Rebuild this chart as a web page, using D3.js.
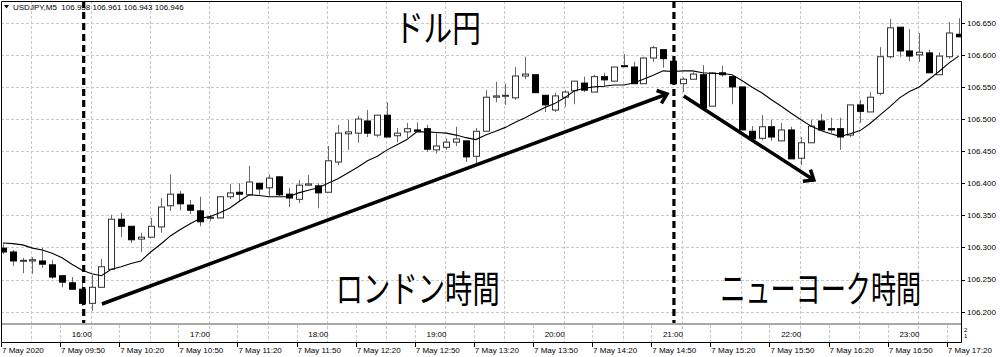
<!DOCTYPE html>
<html><head><meta charset="utf-8">
<script src="https://cdn.jsdelivr.net/npm/d3@7"></script>
<style>body{margin:0;background:#fff;overflow:hidden} svg{display:block}</style>
</head><body>
<svg id="c" width="1000" height="357"></svg>
<script>
// ---------------- data ----------------
const headerText = "USDJPY,M5  106.958 106.961 106.943 106.946";
const priceTicks = [106.200,106.250,106.300,106.350,106.400,106.450,106.500,106.550,106.600,106.650];
const timeLabelBars = [0,6,12,18,24,30,36,42,48,54,60,66,72,78,84,90,96];
const timeLabels = ["7 May 2020","7 May 09:50","7 May 10:20","7 May 10:50","7 May 11:20","7 May 11:50","7 May 12:20","7 May 12:50","7 May 13:20","7 May 13:50","7 May 14:20","7 May 14:50","7 May 15:20","7 May 15:50","7 May 16:20","7 May 16:50","7 May 17:20"];
const hourBars = [8,20,32,44,56,68,80,92];
const hourLabels = ["16:00","17:00","18:00","19:00","20:00","21:00","22:00","23:00"];

const opens = [106.299,106.293,106.279,106.279,106.279,106.273,106.256,106.245,106.235,106.213,
106.238,106.266,106.344,106.333,106.313,106.316,106.332,106.365,106.383,106.366,
106.357,106.346,106.346,106.379,106.386,106.382,106.400,106.393,106.410,106.383,
106.375,106.397,106.396,106.386,106.433,106.477,106.478,106.497,106.475,106.506,
106.474,106.480,106.483,106.485,106.452,106.456,106.464,106.466,106.442,106.481,
106.534,106.536,106.533,106.567,106.569,106.537,106.514,106.534,106.544,106.556,
106.542,106.566,106.559,106.583,106.581,106.555,106.595,106.608,106.590,106.555,
106.562,106.569,106.520,106.572,106.566,106.550,106.481,106.470,106.488,106.466,
106.483,106.439,106.463,106.497,106.485,106.485,106.475,106.522,106.511,106.540,
106.597,106.643,106.606,106.600,106.603,106.569,106.597,106.632];
const highs = [106.305,106.296,106.284,106.285,106.299,106.280,106.256,106.254,106.249,106.257,
106.282,106.351,106.354,106.333,106.323,106.346,106.377,106.414,106.388,106.374,
106.379,106.351,106.379,106.399,106.400,106.427,106.400,106.414,106.411,106.393,
106.405,106.413,106.400,106.458,106.491,106.499,106.505,106.514,106.506,106.526,
106.486,106.494,106.495,106.491,106.478,106.470,106.488,106.466,106.486,106.545,
106.558,106.555,106.581,106.597,106.569,106.537,106.541,106.545,106.559,106.566,
106.569,106.572,106.581,106.601,106.589,106.597,106.614,106.608,106.592,106.565,
106.573,106.584,106.573,106.583,106.566,106.550,106.489,106.506,106.499,106.494,
106.488,106.472,106.499,106.508,106.502,106.502,106.522,106.530,106.542,106.612,
106.656,106.643,106.640,106.634,106.608,106.604,106.651,106.657];
const lows = [106.290,106.271,106.260,106.259,106.268,106.251,106.238,106.234,106.209,106.201,
106.238,106.265,106.316,106.307,106.293,106.316,106.323,106.357,106.358,106.352,
106.333,106.341,106.346,106.375,106.371,106.382,106.382,106.380,106.380,106.363,
106.369,106.396,106.361,106.386,106.428,106.452,106.463,106.472,106.472,106.472,
106.464,106.470,106.481,106.449,106.446,106.452,106.458,106.433,106.428,106.481,
106.526,106.522,106.530,106.562,106.541,106.511,106.511,106.519,106.523,106.542,
106.542,106.550,106.559,106.581,106.555,106.555,106.589,106.580,106.553,106.542,
106.562,106.517,106.520,106.566,106.523,106.483,106.467,106.467,106.466,106.466,
106.438,106.428,106.463,106.483,106.478,106.452,106.472,106.494,106.511,106.537,
106.594,106.597,106.590,106.589,106.572,106.569,106.594,106.628];
const closes = [106.293,106.279,106.280,106.281,106.274,106.254,106.246,106.235,106.213,106.238,
106.270,106.344,106.333,106.312,106.316,106.333,106.363,106.383,106.368,106.358,
106.340,106.347,106.379,106.385,106.383,106.402,106.391,106.408,106.382,106.377,
106.397,106.399,106.385,106.435,106.478,106.480,106.500,106.478,106.506,106.472,
106.478,106.485,106.481,106.453,106.458,106.464,106.469,106.441,106.481,106.534,
106.536,106.537,106.567,106.570,106.541,106.522,106.536,106.542,106.559,106.545,
106.566,106.561,106.581,106.582,106.555,106.595,106.611,106.594,106.555,106.562,
106.570,106.517,106.572,106.569,106.550,106.483,106.469,106.488,106.472,106.483,
106.438,106.463,106.489,106.483,106.483,106.472,106.522,106.512,106.534,106.597,
106.642,106.606,106.598,106.604,106.572,106.598,106.634,106.628];
const maValues = [106.307,106.306,106.304,106.299,106.296,106.291,106.284,106.274,106.265,106.259,
106.256,106.266,106.270,106.275,106.279,106.293,106.305,106.318,106.328,106.337,
106.345,106.348,106.354,106.361,106.372,106.382,106.381,106.379,106.379,106.379,
106.385,106.389,106.393,106.400,106.407,106.416,106.425,106.435,106.442,106.452,
106.460,106.468,106.480,106.480,106.479,106.478,106.475,106.471,106.468,106.475,
106.481,106.487,106.495,106.502,106.510,106.518,106.524,106.533,106.544,106.548,
106.550,106.551,106.553,106.553,106.556,106.562,106.568,106.575,106.574,106.575,
106.575,106.572,106.571,106.571,106.569,106.560,106.550,106.541,106.530,106.520,
106.509,106.499,106.489,106.482,106.477,106.473,106.477,106.482,106.493,106.506,
106.519,106.533,106.543,106.550,106.562,106.574,106.587,106.598];

// annotations in data space (bar index, price)
const sessionLines = [8.2, 68.1];
const arrows = [
  {from:[10.05,106.212], to:[67.4,106.539]},
  {from:[69.1,106.536], to:[82.3,106.405]}
];
const titles = [
  {text:"ドル円", bar:44.15, price:106.620},
  {text:"ロンドン時間", bar:42.1, price:106.2128},
  {text:"ニューヨーク時間", bar:83.0, price:106.2128}
];
const titleWidths = [86, 164, 201];

// ---------------- layout ----------------
const W = 1000, H = 357;
const plot = {left:1, right:961, top:1, bottom:323};
const sub = {top:325, bottom:342};
const svg = d3.select("#c");
const x = d3.scaleLinear().domain([0, 97]).range([2.9, 958.7]);
const y = d3.scaleLinear().domain([106.2, 106.65]).range([311.7, 22.7]);
const labelFont = "'Liberation Sans', Arial, sans-serif";

svg.append("rect").attr("width",W).attr("height",H).attr("fill","#fff");

svg.append("clipPath").attr("id","clipMain").append("rect")
  .attr("x",plot.left).attr("y",plot.top).attr("width",plot.right-plot.left).attr("height",plot.bottom-plot.top);

const grid = svg.append("g").attr("stroke","#c8c8c8").attr("stroke-width",1).attr("stroke-dasharray","3,2");
grid.selectAll("line.h").data(priceTicks).join("line")
  .attr("x1",plot.left).attr("x2",plot.right)
  .attr("y1",d=>Math.round(y(d))+0.5).attr("y2",d=>Math.round(y(d))+0.5);
const vgrid = d3.range(3, 98, 6);
grid.selectAll("line.v").data(vgrid).join("line")
  .attr("x1",d=>Math.round(x(d))-0.5).attr("x2",d=>Math.round(x(d))-0.5)
  .attr("y1",plot.top).attr("y2",sub.bottom);
grid.selectAll("line.vs").data(timeLabelBars.slice(1)).join("line")
  .attr("x1",d=>Math.round(x(d))-1.5).attr("x2",d=>Math.round(x(d))-1.5)
  .attr("y1",sub.top).attr("y2",sub.bottom);

// candles
const main = svg.append("g").attr("clip-path","url(#clipMain)");
const idx = d3.range(opens.length);
main.append("g").selectAll("line").data(idx).join("line")
  .attr("x1",i=>Math.round(x(i))+0.5).attr("x2",i=>Math.round(x(i))+0.5)
  .attr("y1",i=>y(highs[i])).attr("y2",i=>y(lows[i]))
  .attr("stroke","#6a6a6a").attr("stroke-width",1);
const bw = 6;
main.append("g").selectAll("rect").data(idx).join("rect")
  .attr("x",i=>Math.round(x(i))-bw/2+0.5)
  .attr("width",bw)
  .attr("y",i=>Math.min(y(opens[i]),y(closes[i])))
  .attr("height",i=>Math.max(1,Math.abs(y(opens[i])-y(closes[i]))))
  .attr("fill",i=>closes[i]>=opens[i]?"#fff":"#000")
  .attr("stroke",i=>closes[i]>=opens[i]?"#333":"#000")
  .attr("stroke-width",1);

// moving average
main.append("path").datum(maValues)
  .attr("d",d3.line().x((d,i)=>x(i)).y(d=>y(d)).curve(d3.curveLinear))
  .attr("fill","none").attr("stroke","#000").attr("stroke-width",1.1);

// session dashed lines
svg.append("g").selectAll("line").data(sessionLines).join("line")
  .attr("x1",d=>x(d)).attr("x2",d=>x(d)).attr("y1",plot.top).attr("y2",plot.bottom)
  .attr("stroke","#000").attr("stroke-width",3.2).attr("stroke-dasharray","7,4");

// arrows
const ag = svg.append("g").attr("stroke","#000").attr("stroke-width",3.5).attr("fill","none")
  .attr("stroke-linecap","butt");
arrows.forEach(a=>{
  const x1=x(a.from[0]), y1=y(a.from[1]), x2=x(a.to[0]), y2=y(a.to[1]);
  ag.append("line").attr("x1",x1).attr("y1",y1).attr("x2",x2).attr("y2",y2);
  const ang = Math.atan2(y2-y1, x2-x1) + Math.PI, L = 11, sp = 0.68;
  const p = [[x2+L*Math.cos(ang-sp), y2+L*Math.sin(ang-sp)],[x2,y2],[x2+L*Math.cos(ang+sp), y2+L*Math.sin(ang+sp)]];
  ag.append("path").attr("d", d3.line()(p)).attr("stroke-linejoin","miter");
});

// titles (Japanese) - horizontally condensed to the reference widths
svg.append("g").selectAll("text").data(titles).join("text")
  .attr("x",0).attr("y",0)
  .attr("text-anchor","middle")
  .attr("font-family","'Noto Sans CJK JP', sans-serif").attr("font-size",37)
  .attr("fill","#000").text(d=>d.text)
  .each(function(d,i){
    const len = this.getComputedTextLength() || titleWidths[i];
    d3.select(this).attr("transform",`translate(${x(d.bar)},${y(d.price)}) scale(${titleWidths[i]/len},1)`);
  });

// frame
const fr = svg.append("g").attr("fill","none");
fr.append("path").attr("d",`M${plot.left+0.5},${sub.bottom+0.5}V${plot.top+0.5}H${plot.right+0.5}V${sub.bottom+0.5}H${plot.left+0.5}`)
  .attr("stroke","#000").attr("stroke-width",1);
fr.append("rect").attr("x",plot.left+1).attr("y",plot.bottom).attr("width",plot.right-plot.left-1).attr("height",2)
  .attr("fill","#a8a8a8");

// price axis
const pa = svg.append("g");
pa.selectAll("line").data(priceTicks).join("line")
  .attr("x1",plot.right+1).attr("x2",plot.right+4)
  .attr("y1",d=>Math.round(y(d))+0.5).attr("y2",d=>Math.round(y(d))+0.5).attr("stroke","#000");
pa.selectAll("text").data(priceTicks).join("text")
  .attr("x",967).attr("y",d=>y(d)).attr("dy","0.35em")
  .attr("font-family",labelFont).attr("font-size",8).attr("fill","#000")
  .text(d=>d3.format(".3f")(d));

// sub panel scale
svg.append("text").attr("x",964).attr("y",331.5).attr("font-family",labelFont).attr("font-size",6).text("2");
svg.append("text").attr("x",964).attr("y",338).attr("font-family",labelFont).attr("font-size",6).text("1");

// hour labels in sub panel
svg.append("g").selectAll("text").data(hourBars).join("text")
  .attr("x",d=>x(d)).attr("y",336.5).attr("text-anchor","middle")
  .attr("font-family",labelFont).attr("font-size",8).attr("fill","#000")
  .text((d,i)=>hourLabels[i]);

// time axis
const ta = svg.append("g");
ta.selectAll("line").data(timeLabelBars).join("line")
  .attr("x1",d=>Math.round(x(d))-1.5).attr("x2",d=>Math.round(x(d))-1.5)
  .attr("y1",sub.bottom+1).attr("y2",sub.bottom+5).attr("stroke","#000");
ta.selectAll("text").data(timeLabelBars).join("text")
  .attr("x",d=>Math.max(2, x(d)-1)).attr("y",353)
  .attr("font-family",labelFont).attr("font-size",8).attr("fill","#000")
  .text((d,i)=>timeLabels[i]);

// header
svg.append("path").attr("d","M4,5H9L6.5,8.5Z").attr("fill","#000");
svg.append("text").attr("x",13).attr("y",10).attr("font-family",labelFont).attr("font-size",8)
  .attr("fill","#000").attr("xml:space","preserve").text(headerText);
</script>
</body></html>
